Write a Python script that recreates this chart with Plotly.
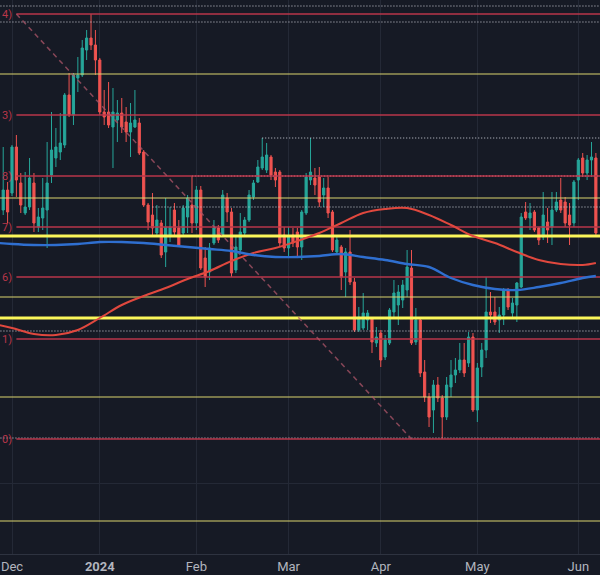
import pandas as pd
import plotly.graph_objects as go

# ---------------- data ----------------
holidays = ["2023-12-25", "2024-01-01"]
dates = pd.bdate_range("2023-11-29", "2024-06-07", freq="C", holidays=holidays).strftime("%Y-%m-%d").tolist()

open_ = [
    1.0940, 1.0960,
    1.0957, 1.1003, 1.0967, 1.0937, 1.0943, 1.0967, 1.0923, 1.0932, 1.0940, 1.0975, 1.0992, 1.0998, 1.1005, 1.1055, 1.1035, 1.1072, 1.1075, 1.1100, 1.1112, 1.1105,
    1.1090, 1.1038, 1.1038, 1.1023, 1.1030, 1.1037, 1.1028, 1.1018, 1.1023, 1.1027, 1.0998, 1.0945, 1.0935, 1.0917, 1.0927, 1.0898, 1.0915, 1.0940, 1.0922, 1.0917, 1.0933, 1.0945,
    1.0927, 1.0960, 1.0892, 1.0878, 1.0907, 1.0922, 1.0915, 1.0952, 1.0938, 1.0880, 1.0900, 1.0917, 1.0930, 1.0953, 1.0968, 1.0982, 1.0980, 1.0993, 1.0978, 1.0978, 1.0915,
    1.0902, 1.0915, 1.0918, 1.0903, 1.0937, 1.0970, 1.0972, 1.0973, 1.0955, 1.0962, 1.0938, 1.0898, 1.0903, 1.0878, 1.0898, 1.0868, 1.0820, 1.0822, 1.0830, 1.0832, 1.0807,
    1.0817, 1.0793, 1.0807, 1.0838, 1.0845, 1.0850, 1.0860, 1.0882, 1.0808, 1.0830, 1.0778, 1.0753, 1.0740, 1.0765, 1.0752, 1.0733, 1.0763, 1.0775, 1.0780, 1.0790, 1.0787, 1.0813,
    1.0740, 1.0783, 1.0800, 1.0838, 1.0838, 1.0830, 1.0835, 1.0860, 1.0837, 1.0845, 1.0863, 1.0938, 1.0932, 1.0938, 1.0922, 1.0913, 1.0928, 1.0923, 1.0940, 1.0950, 1.0948, 1.0935, 1.0927,
    1.0970, 1.0992, 1.0977, 1.0990, 1.0992,
]
high = [
    1.1003, 1.0968,
    1.1005, 1.1015, 1.0977, 1.0978, 1.0992, 1.0977, 1.0942, 1.0972, 1.1008, 1.1038, 1.1022, 1.1037, 1.1057, 1.1077, 1.1077, 1.1093, 1.1110, 1.1120, 1.1136, 1.1120,
    1.1092, 1.1060, 1.1068, 1.1062, 1.1050, 1.1052, 1.1043, 1.1047, 1.1060, 1.1032, 1.1000, 1.0947, 1.0957, 1.0945, 1.0930, 1.0952, 1.0943, 1.0947, 1.0930, 1.0945, 1.0955, 1.0974,
    1.0964, 1.0964, 1.0903, 1.0907, 1.0930, 1.0925, 1.0960, 1.0957, 1.0942, 1.0915, 1.0937, 1.0933, 1.0960, 1.0970, 1.0990, 1.1012, 1.1007, 1.0995, 1.0982, 1.0980, 1.0923,
    1.0923, 1.0922, 1.0922, 1.0940, 1.0977, 1.1012, 1.0982, 1.0983, 1.0972, 1.0973, 1.0940, 1.0913, 1.0905, 1.0902, 1.0920, 1.0872, 1.0843, 1.0857, 1.0840, 1.0833, 1.0823,
    1.0820, 1.0815, 1.0842, 1.0870, 1.0865, 1.0870, 1.0900, 1.0900, 1.0842, 1.0832, 1.0790, 1.0757, 1.0770, 1.0773, 1.0755, 1.0773, 1.0790, 1.0792, 1.0807, 1.0807, 1.0818, 1.0817,
    1.0787, 1.0807, 1.0873, 1.0858, 1.0853, 1.0843, 1.0862, 1.0862, 1.0852, 1.0868, 1.0937, 1.0948, 1.0947, 1.0940, 1.0923, 1.0958, 1.0942, 1.0958, 1.0958, 1.0972, 1.0953, 1.0947, 1.0970,
    1.0992, 1.0997, 1.0995, 1.1008, 1.0997,
]
low = [
    1.0935, 1.0927,
    1.0954, 1.0953, 1.0937, 1.0935, 1.0940, 1.0918, 1.0918, 1.0920, 1.0902, 1.0967, 1.0983, 1.0990, 1.1002, 1.1033, 1.1025, 1.1058, 1.1073, 1.1090, 1.1100, 1.1075,
    1.1035, 1.1025, 1.1022, 1.0982, 1.1008, 1.1017, 1.1008, 1.0993, 1.1022, 1.0995, 1.0943, 1.0920, 1.0915, 1.0914, 1.0892, 1.0883, 1.0908, 1.0914, 1.0903, 1.0915, 1.0917, 1.0917,
    1.0920, 1.0880, 1.0863, 1.0870, 1.0905, 1.0907, 1.0913, 1.0928, 1.0873, 1.0877, 1.0898, 1.0913, 1.0928, 1.0950, 1.0967, 1.0980, 1.0977, 1.0970, 1.0963, 1.0903, 1.0898,
    1.0893, 1.0903, 1.0893, 1.0890, 1.0935, 1.0965, 1.0955, 1.0943, 1.0943, 1.0932, 1.0898, 1.0895, 1.0860, 1.0853, 1.0865, 1.0818, 1.0818, 1.0820, 1.0820, 1.0797, 1.0803,
    1.0783, 1.0790, 1.0805, 1.0833, 1.0825, 1.0842, 1.0853, 1.0805, 1.0805, 1.0773, 1.0748, 1.0723, 1.0717, 1.0748, 1.0711, 1.0730, 1.0753, 1.0767, 1.0777, 1.0773, 1.0783, 1.0738,
    1.0728, 1.0773, 1.0792, 1.0827, 1.0825, 1.0817, 1.0825, 1.0840, 1.0832, 1.0828, 1.0862, 1.0930, 1.0920, 1.0918, 1.0905, 1.0910, 1.0907, 1.0905, 1.0938, 1.0937, 1.0923, 1.0905, 1.0923,
    1.0950, 1.0973, 1.0970, 1.0975, 1.0913,
]
close = [
    1.0960, 1.0938,
    1.1003, 1.0970, 1.0945, 1.0943, 1.0972, 1.0927, 1.0933, 1.0942, 1.0967, 1.1000, 1.1003, 1.1007, 1.1055, 1.1035, 1.1075, 1.1075, 1.1102, 1.1112, 1.1105, 1.1090,
    1.1038, 1.1033, 1.1025, 1.1038, 1.1037, 1.1023, 1.1018, 1.1027, 1.1030, 1.0997, 1.0945, 1.0928, 1.0922, 1.0930, 1.0895, 1.0923, 1.0923, 1.0918, 1.0905, 1.0942, 1.0952, 1.0927,
    1.0960, 1.0882, 1.0873, 1.0902, 1.0922, 1.0910, 1.0955, 1.0938, 1.0877, 1.0903, 1.0918, 1.0930, 1.0955, 1.0967, 1.0983, 1.0993, 1.0995, 1.0975, 1.0970, 1.0907, 1.0902,
    1.0913, 1.0907, 1.0903, 1.0938, 1.0973, 1.0978, 1.0965, 1.0948, 1.0962, 1.0937, 1.0900, 1.0910, 1.0873, 1.0898, 1.0868, 1.0820, 1.0833, 1.0837, 1.0837, 1.0808, 1.0813,
    1.0790, 1.0810, 1.0840, 1.0857, 1.0858, 1.0865, 1.0883, 1.0807, 1.0830, 1.0777, 1.0753, 1.0733, 1.0765, 1.0752, 1.0733, 1.0765, 1.0775, 1.0780, 1.0790, 1.0777, 1.0813, 1.0740,
    1.0782, 1.0800, 1.0838, 1.0835, 1.0828, 1.0835, 1.0860, 1.0843, 1.0847, 1.0867, 1.0933, 1.0932, 1.0937, 1.0920, 1.0910, 1.0935, 1.0920, 1.0940, 1.0948, 1.0940, 1.0927, 1.0925, 1.0968,
    1.0990, 1.0977, 1.0990, 1.0993, 1.0917,
]

ma_dates = ["2023-11-28", "2023-12-01", "2023-12-08", "2023-12-15", "2023-12-22", "2024-01-02",
            "2024-01-09", "2024-01-16", "2024-01-23", "2024-01-30", "2024-02-06", "2024-02-13",
            "2024-02-20", "2024-02-27", "2024-03-05", "2024-03-12", "2024-03-19", "2024-03-26",
            "2024-04-02", "2024-04-09", "2024-04-16", "2024-04-23", "2024-04-30", "2024-05-07",
            "2024-05-14", "2024-05-21", "2024-05-28", "2024-06-04", "2024-06-07"]
red_ma = [1.0825, 1.0822, 1.0816, 1.0815, 1.0820, 1.0832, 1.0845, 1.0854, 1.0862, 1.0871,
          1.0879, 1.0889, 1.0897, 1.0902, 1.0909, 1.0917, 1.0927, 1.0937, 1.0941, 1.0942,
          1.0935, 1.0925, 1.0914, 1.0907, 1.0898, 1.0890, 1.0886, 1.0885, 1.0887]
blue_ma = [1.0907, 1.0906, 1.0905, 1.0905, 1.0906, 1.0908, 1.0908, 1.0907, 1.0905, 1.0903,
           1.0901, 1.0899, 1.0895, 1.0893, 1.0893, 1.0894, 1.0896, 1.0893, 1.0890, 1.0886,
           1.0883, 1.0872, 1.0865, 1.0861, 1.0860, 1.0863, 1.0867, 1.0872, 1.0874]

fib_levels = [1.1136, 1.1035, 1.0974, 1.0923, 1.0873, 1.0811, 1.0711]
fib_labels = ["4)", "3)", "8)", "7)", "6)", "1)", "0)"]
fib_start = "2023-12-04"
yellow_thin = [1.1076, 1.0952, 1.0853, 1.0753, 1.0629]
yellow_thick = [1.0914, 1.0832]
dotted_full = [1.1144, 1.1128, 1.0819, 1.0712]
dotted_part = [1.1012, 1.0943, 1.0974]
dotted_part_start = ["2024-02-22", "2024-01-18", "2024-01-31"]
trend_dates = ["2023-12-04", "2024-04-10"]
trend_prices = [1.1136, 1.0711]

tick_vals = ["2023-12-01", "2024-01-02", "2024-02-01", "2024-03-01", "2024-04-01", "2024-05-01", "2024-06-03"]
tick_text = ["Dec", "<b>2024</b>", "Feb", "Mar", "Apr", "May", "Jun"]

line_start = "2023-11-27"
line_end = "2024-06-10"

# ---------------- figure ----------------
BG = "#161a25"
UP = "#26a69a"
DN = "#ef5350"
FIB = "#b8364a"

fig = go.Figure()
fig.add_trace(go.Candlestick(
    x=dates, open=open_, high=high, low=low, close=close,
    increasing=dict(line=dict(color=UP, width=1), fillcolor=UP),
    decreasing=dict(line=dict(color=DN, width=1), fillcolor=DN),
    whiskerwidth=0, showlegend=False, hoverinfo="skip"))

def hline(x0, y, color, width, dash="solid"):
    fig.add_trace(go.Scatter(x=[x0, line_end], y=[y, y], mode="lines",
                             line=dict(color=color, width=width, dash=dash),
                             showlegend=False, hoverinfo="skip"))

for y in yellow_thin:
    hline(line_start, y, "#d9d36e", 1.2)
for y in dotted_full:
    hline(line_start, y, "#cfd2da", 1, "1px,2px")
for y, s in zip(dotted_part, dotted_part_start):
    hline(s, y, "#cfd2da", 1, "1px,2px")
for y in fib_levels:
    hline(fib_start, y, FIB, 1.6)
for y in yellow_thick:
    hline(line_start, y, "#fbf65a", 3.2)

fig.add_trace(go.Scatter(x=trend_dates, y=trend_prices, mode="lines",
                         line=dict(color="rgba(175,85,105,0.75)", width=1.5, dash="5px,4px"),
                         showlegend=False, hoverinfo="skip"))

fig.add_trace(go.Scatter(x=ma_dates, y=red_ma, mode="lines",
                         line=dict(color="#e0483e", width=2, shape="spline", smoothing=1),
                         showlegend=False, hoverinfo="skip"))
fig.add_trace(go.Scatter(x=ma_dates, y=blue_ma, mode="lines",
                         line=dict(color="#2f6fd0", width=2.4, shape="spline", smoothing=1),
                         showlegend=False, hoverinfo="skip"))

for y, t in zip(fib_levels, fib_labels):
    fig.add_annotation(x=0.002, xref="paper", y=y, yref="y", text=t, showarrow=False,
                       xanchor="left", yanchor="middle", borderpad=0,
                       font=dict(color=FIB, size=11, family="Roboto"))

fig.update_layout(
    width=600, height=575,
    margin=dict(l=0, r=0, t=0, b=21),
    paper_bgcolor=BG, plot_bgcolor=BG,
    showlegend=False,
    xaxis=dict(
        type="date",
        range=["2023-11-28 06:24", "2024-06-07 22:34"],
        rangebreaks=[dict(bounds=["sat", "mon"]), dict(values=holidays)],
        rangeslider=dict(visible=False),
        tickmode="array", tickvals=tick_vals, ticktext=tick_text,
        showgrid=True, gridcolor="#242936", gridwidth=1,
        showline=True, linecolor="#2e3340", linewidth=1,
        zeroline=False, ticks="",
        tickfont=dict(color="#b2b5be", size=13, family="Roboto"),
    ),
    yaxis=dict(
        range=[1.0596, 1.1150],
        tickmode="array", tickvals=[1.0667],
        showticklabels=False, showgrid=True, gridcolor="#242936",
        zeroline=False, showline=False, ticks="",
    ),
)

fig.write_html("out.html")
